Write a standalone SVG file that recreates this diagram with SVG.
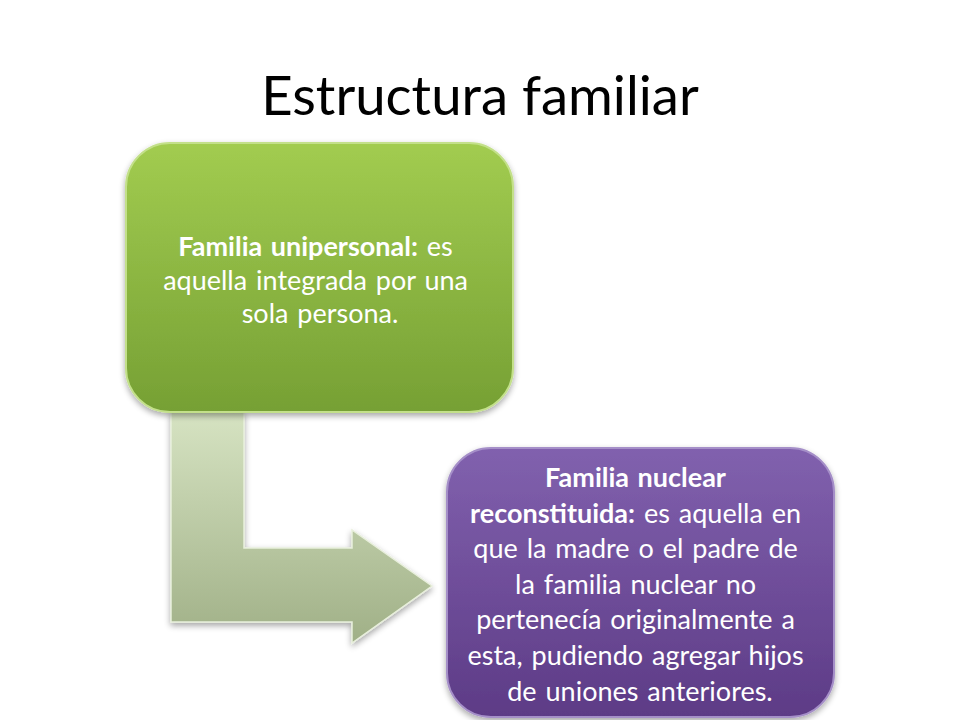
<svg xmlns="http://www.w3.org/2000/svg" width="960" height="720" viewBox="0 0 960 720">
  <defs>
    <linearGradient id="gGreen" x1="0" y1="0" x2="0" y2="1">
      <stop offset="0" stop-color="#a2cc50"/>
      <stop offset="1" stop-color="#76a034"/>
    </linearGradient>
    <linearGradient id="gPurple" x1="0" y1="0" x2="0" y2="1">
      <stop offset="0" stop-color="#8161ae"/>
      <stop offset="1" stop-color="#5d3b86"/>
    </linearGradient>
    <linearGradient id="gArrow" x1="0" y1="0" x2="0" y2="1">
      <stop offset="0" stop-color="#d6e3c2"/>
      <stop offset="1" stop-color="#a0b087"/>
    </linearGradient>
    <filter id="shadow" x="-10%" y="-10%" width="120%" height="125%">
      <feGaussianBlur in="SourceAlpha" stdDeviation="3"/>
      <feOffset dx="0" dy="3" result="b"/>
      <feComponentTransfer><feFuncA type="linear" slope="0.35"/></feComponentTransfer>
      <feMerge><feMergeNode/><feMergeNode in="SourceGraphic"/></feMerge>
    </filter>
  </defs>
  <style>
    .title { font-family: Lato, "Open Sans", sans-serif; font-size: 54.5px; fill: #000; }
    .txt { font-family: Lato, "Open Sans", sans-serif; font-size: 27px; fill: #fff; word-spacing: 2px; }
    .b { font-weight: bold; }
  </style>
  <rect width="960" height="720" fill="#fff"/>
  <text class="title" x="480" y="115" text-anchor="middle">Estructura familiar</text>

  <g id="connectors">
    <path d="M171,412 L244,412 L244,548 L352,548 L352,530 L432,586 L352,643 L352,622 L171,622 Z" fill="url(#gArrow)" stroke="#e8efdc" stroke-width="1.5" filter="url(#shadow)"/>
  </g>

  <g id="node-unipersonal">
    <rect x="126" y="143" width="387" height="269" rx="44" fill="url(#gGreen)" stroke="#c3e08a" stroke-width="2" filter="url(#shadow)"/>
    <text class="txt" text-anchor="middle">
      <tspan x="320" y="256"><tspan class="b">Familia unipersonal:</tspan> es</tspan>
      <tspan x="320" y="290">aquella integrada por una</tspan>
      <tspan x="320" y="323">sola persona.</tspan>
    </text>
  </g>

  <g id="node-reconstituida">
    <rect x="447" y="448" width="387" height="269" rx="44" fill="url(#gPurple)" stroke="#a58fc8" stroke-width="2" filter="url(#shadow)"/>
    <text class="txt" text-anchor="middle">
      <tspan x="640" y="487" class="b">Familia nuclear</tspan>
      <tspan x="640" y="523"><tspan class="b">reconstituida:</tspan> es aquella en</tspan>
      <tspan x="640" y="558">que la madre o el padre de</tspan>
      <tspan x="640" y="594">la familia nuclear no</tspan>
      <tspan x="640" y="629">pertenecía originalmente a</tspan>
      <tspan x="640" y="665">esta, pudiendo agregar hijos</tspan>
      <tspan x="640" y="701">de uniones anteriores.</tspan>
    </text>
  </g>
</svg>
